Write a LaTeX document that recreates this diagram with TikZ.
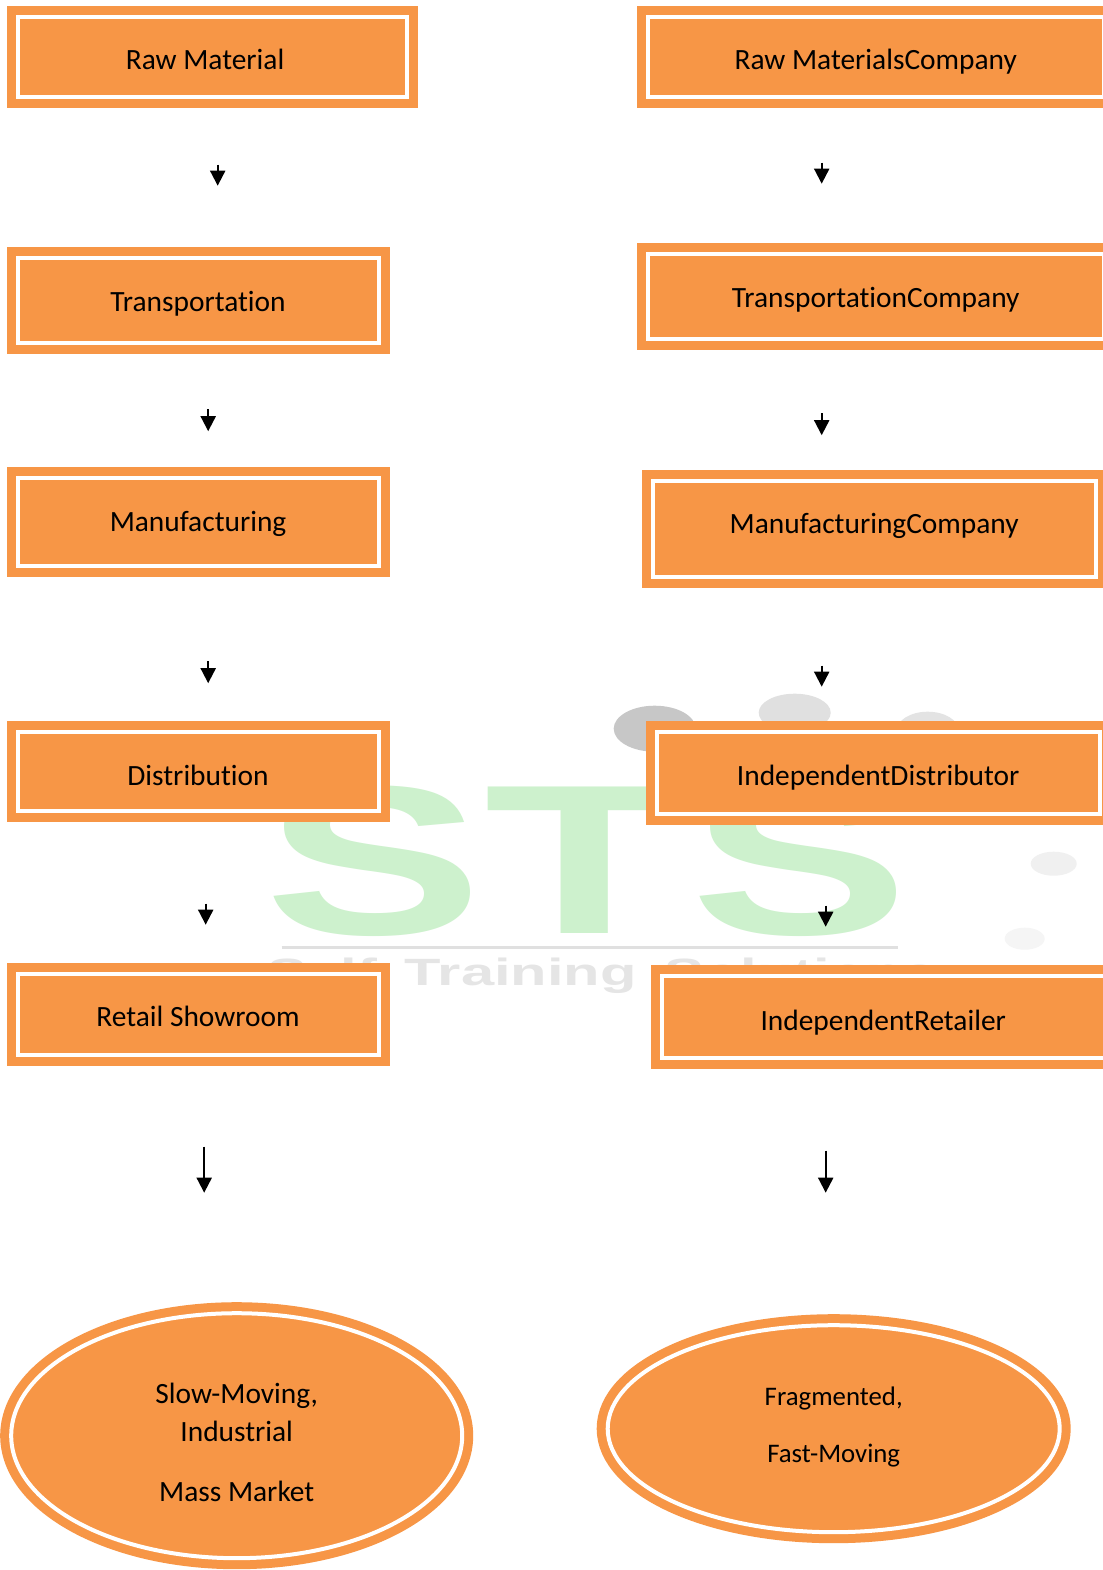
\documentclass[tikz,border=0pt]{standalone}
\usepackage{fontspec}
\setmainfont{Carlito}[Ligatures=CommonOff]
\newfontfamily\markfont{Liberation Sans}
\usetikzlibrary{shapes.geometric,arrows.meta}
\definecolor{boxorange}{HTML}{F79646}
\definecolor{markgreen}{HTML}{CDF1CD}
\tikzset{x=1pt,y=-1pt,
  base/.style={text height=#1, text depth=0pt},
  shell/.style={draw=boxorange,fill=boxorange,line width=9pt,double=white,double distance=4pt,inner sep=0pt,outer sep=0pt,text=black},
  boxnode/.style={shell,rectangle,font=\fontsize{29.4}{34}\selectfont},
  ovalnode/.style={shell,ellipse,align=center},
  flow/.style={line width=2pt,-{Triangle[width=15pt,length=15pt]},shorten >=0pt},
  wm/.style={font=\markfont\bfseries\fontsize{213}{213}\selectfont,text=markgreen,inner sep=0pt,transform shape},
  blob/.style={ellipse,inner sep=0pt,outer sep=0pt}
}
% name, x0, y0, x1, y1, text shift (x), baseline offset, text
\newcommand{\bx}[8]{%
  \node[boxnode,base=#7,minimum width={#4-#2-22pt},minimum height={#5-#3-22pt}] (#1) at ({(#2+#4)/2},{(#3+#5)/2}) {\ifdim #6pt<0pt #8\hspace*{\dimexpr-2\dimexpr #6pt\relax\relax}\else\hspace*{\dimexpr 2\dimexpr #6pt\relax\relax}#8\fi};}
\newcommand{\arr}[5]{%
  \coordinate (#1s) at (#2,#3);\coordinate (#1e) at (#4,#5);
  \draw[flow] (#1s) -- (#1e);}
\begin{document}
\begin{tikzpicture}
\useasboundingbox (-0.7,-0.7) rectangle (1101.3,1569.3);
\fill[white] (-0.7,-0.7) rectangle (1101.3,1569.3);
% watermark
\node[blob,fill=black!22,minimum width=82pt,minimum height=46pt] (b1) at (654,728) {};
\node[blob,fill=black!12,minimum width=72pt,minimum height=38pt] (b2) at (794,712) {};
\node[blob,fill=black!11,minimum width=62pt,minimum height=38pt] (b3) at (927,730) {};
\node[blob,fill=black!6,minimum width=46pt,minimum height=24pt] (b4) at (1053,863) {};
\node[blob,fill=black!4,minimum width=40pt,minimum height=22pt] (b5) at (1024,938) {};
\begin{scope}[xscale=1.54]
\node[wm] (ws1) at (242.5,860) {S};
\node[wm] (wt) at (379,860) {T};
\node[wm] (ws2) at (519,860) {S};
\end{scope}
\coordinate (wl1) at (281,947);\coordinate (wl2) at (897,947);
\draw[black!12,line width=3pt] (wl1) -- (wl2);
\begin{scope}[xscale=1.57]
\node[font=\markfont\bfseries\fontsize{38}{38}\selectfont,text=black!10,inner sep=0pt,transform shape] (wtext) at (383,975) {Self\hspace{7pt} Training\hspace{7pt} Solutions};
\end{scope}
% left column
\bx{a1}{6.3}{5}{417}{107}{-7.3}{26}{Raw Material}
\bx{a2}{6.3}{246.5}{389}{353}{-0.3}{22}{Transportation}
\bx{a3}{6.3}{466}{389}{576}{-0.3}{20}{Manufacturing}
\bx{a4}{6.3}{720}{389}{821}{-0.3}{28}{Distribution}
\bx{a5}{6.3}{962}{389}{1065.5}{-0.3}{25}{Retail Showroom}
% right column
\bx{c1}{636}{5}{1114}{107}{0}{26}{Raw MaterialsCompany}
\bx{c2}{636}{242.5}{1114}{349}{0}{22}{TransportationCompany}
\bx{c3}{641}{469}{1106}{587}{0}{10}{ManufacturingCompany}
\bx{c4}{645}{720}{1110}{824}{0}{26}{IndependentDistributor}
\bx{c5}{650}{964}{1115}{1068.5}{0}{27}{IndependentRetailer}
% ovals
\node[ovalnode,minimum width=451pt,minimum height=245pt,font=\fontsize{29.4}{40}\selectfont] (o1) at (236,1435) {\rule{0pt}{34pt}Slow-Moving,\\[-2pt]Industrial\\[20pt]Mass Market};
\node[ovalnode,minimum width=452pt,minimum height=207pt,font=\fontsize{26.8}{57}\selectfont] (o2) at (833,1428) {Fragmented,\\Fast-Moving\rule[-8pt]{0pt}{8pt}};
% arrows
\arr{l1}{217}{164}{217}{185}
\arr{l2}{207.5}{408.5}{207.5}{430.5}
\arr{l3}{207.5}{660.5}{207.5}{682.5}
\arr{l4}{205}{903}{205}{924}
\arr{l5}{203.5}{1146}{203.5}{1192}
\arr{r1}{821}{162}{821}{183}
\arr{r2}{821}{412.5}{821}{434.5}
\arr{r3}{821}{665}{821}{686}
\arr{r4}{825}{905}{825}{926}
\arr{r5}{825}{1150}{825}{1192}
\end{tikzpicture}
\end{document}
